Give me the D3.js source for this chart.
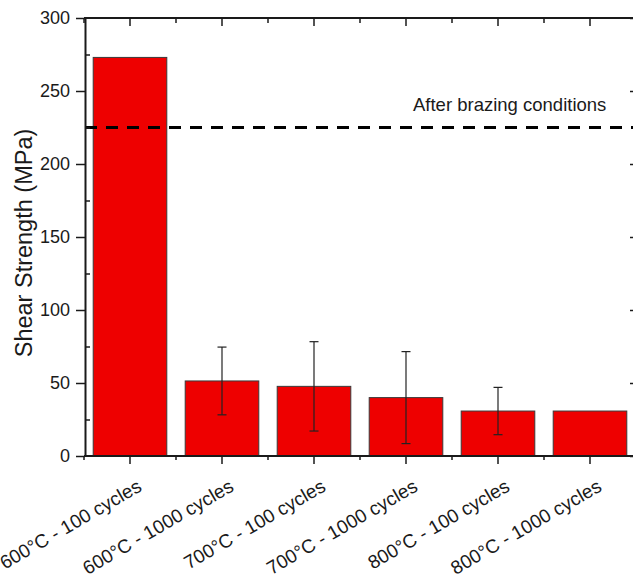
<!DOCTYPE html>
<html>
<head>
<meta charset="utf-8">
<script src="https://cdn.jsdelivr.net/npm/d3@7"></script>
<style>
  html, body { margin: 0; padding: 0; background: #fff; }
  svg { display: block; font-family: "Liberation Sans", Arial, sans-serif; }
</style>
</head>
<body>
<svg id="chart" width="633" height="574"></svg>
<script>
// Shear strength after thermal cycling
const categories = [
  "600°C - 100 cycles",
  "600°C - 1000 cycles",
  "700°C - 100 cycles",
  "700°C - 1000 cycles",
  "800°C - 100 cycles",
  "800°C - 1000 cycles"
];
const strength = [273, 51.4, 47.7, 40, 30.8, 30.8];
const strengthErr = [null, 23.2, 30.6, 31.5, 16.2, null];
const referenceValue = 225;
const referenceLabel = "After brazing conditions";
const yMajorTicks = [0, 50, 100, 150, 200, 250, 300];
const yMinorTicks = [25, 75, 125, 175, 225, 275];
const yTitle = "Shear Strength (MPa)";

(function () {
const svg = d3.select("#chart");
const plotLeft = 85, plotRight = 636, plotTop = 18, plotBottom = 456;

const x = d3.scaleBand()
  .domain(categories)
  .range([84, 636])
  .paddingInner(0.2)
  .paddingOuter(0.1);

const y = d3.scaleLinear().domain([0, 300]).range([plotBottom, plotTop]);

// category boundaries for the minor ticks on the horizontal axes
const gap = (x.step() - x.bandwidth()) / 2;
const boundaries = categories.map(c => x(c) - gap).concat([x(categories[categories.length - 1]) + x.bandwidth() + gap]);

const ink = "#1a1a1a";

// bars
svg.append("g").selectAll("rect")
  .data(categories)
  .join("rect")
  .attr("x", c => x(c))
  .attr("y", (c, i) => y(strength[i]))
  .attr("width", x.bandwidth())
  .attr("height", (c, i) => y(0) - y(strength[i]))
  .attr("fill", "#ee0000")
  .attr("stroke", "#3a3a3a")
  .attr("stroke-width", 1);

// error bars
const eb = svg.append("g").attr("stroke", "#222").attr("stroke-width", 1.2);
categories.forEach((c, i) => {
  const e = strengthErr[i];
  if (e == null) return;
  const cx = x(c) + x.bandwidth() / 2;
  const y1 = y(strength[i] + e), y2 = y(strength[i] - e);
  eb.append("line").attr("x1", cx).attr("x2", cx).attr("y1", y1).attr("y2", y2);
  eb.append("line").attr("x1", cx - 4.5).attr("x2", cx + 4.5).attr("y1", y1).attr("y2", y1);
  eb.append("line").attr("x1", cx - 4.5).attr("x2", cx + 4.5).attr("y1", y2).attr("y2", y2);
});

// reference level
svg.append("line")
  .attr("x1", plotLeft).attr("x2", 633)
  .attr("y1", y(referenceValue)).attr("y2", y(referenceValue))
  .attr("stroke", "#000")
  .attr("stroke-width", 2.8)
  .attr("stroke-dasharray", "12,9");

svg.append("text")
  .attr("x", 413)
  .attr("y", 111)
  .attr("font-size", 18.5)
  .attr("fill", ink)
  .text(referenceLabel);

function styleAxis(g) {
  g.select(".domain").attr("stroke", ink).attr("stroke-width", 2);
  g.selectAll(".tick line").attr("stroke", ink).attr("stroke-width", 1.5);
}

// left axis: major ticks outward with labels, minor ticks inward
svg.append("g")
  .attr("transform", `translate(${plotLeft},0)`)
  .call(d3.axisLeft(y).tickValues(yMajorTicks).tickSize(9).tickPadding(6).tickSizeOuter(0))
  .call(styleAxis)
  .call(g => g.selectAll("text").attr("font-size", 18).attr("fill", ink).attr("font-family", "Liberation Sans, Arial, sans-serif"));
svg.append("g")
  .attr("transform", `translate(${plotLeft},0)`)
  .call(d3.axisRight(y).tickValues(yMinorTicks).tickSize(5).tickFormat("").tickSizeOuter(0))
  .call(styleAxis)
  .call(g => g.select(".domain").remove());

// right axis: ticks inward only
svg.append("g")
  .attr("transform", `translate(${plotRight},0)`)
  .call(d3.axisLeft(y).tickValues(yMajorTicks).tickSize(6).tickFormat("").tickSizeOuter(0))
  .call(styleAxis);
svg.append("g")
  .attr("transform", `translate(${plotRight},0)`)
  .call(d3.axisLeft(y).tickValues(yMinorTicks).tickSize(3).tickFormat("").tickSizeOuter(0))
  .call(styleAxis)
  .call(g => g.select(".domain").remove());

// bottom axis: major ticks outward at category centres
svg.append("g")
  .attr("transform", `translate(0,${plotBottom})`)
  .call(d3.axisBottom(x).tickSize(8).tickFormat("").tickSizeOuter(0))
  .call(styleAxis)
  .call(g => g.select(".domain").attr("d", `M${plotLeft - 1},0H${plotRight}`));
svg.append("g").selectAll("line")
  .data(boundaries)
  .join("line")
  .attr("x1", d => d).attr("x2", d => d)
  .attr("y1", plotBottom).attr("y2", plotBottom + 4)
  .attr("stroke", ink).attr("stroke-width", 1.5);

// top axis: ticks inward
svg.append("g")
  .attr("transform", `translate(0,${plotTop})`)
  .call(d3.axisBottom(x).tickSize(8).tickFormat("").tickSizeOuter(0))
  .call(styleAxis)
  .call(g => g.select(".domain").attr("d", `M${plotLeft - 1},0H${plotRight}`));
svg.append("g").selectAll("line")
  .data(boundaries)
  .join("line")
  .attr("x1", d => d).attr("x2", d => d)
  .attr("y1", plotTop).attr("y2", plotTop + 5)
  .attr("stroke", ink).attr("stroke-width", 1.5);

// rotated category labels
svg.append("g").selectAll("text")
  .data(categories)
  .join("text")
  .attr("transform", c => `translate(${x(c) + x.bandwidth() / 2 + 13},490) rotate(-30)`)
  .attr("text-anchor", "end")
  .attr("font-size", 19)
  .attr("fill", ink)
  .text(c => c);

// y-axis title
svg.append("text")
  .attr("transform", `translate(32,243) rotate(-90)`)
  .attr("text-anchor", "middle")
  .attr("font-size", 23.5)
  .attr("fill", ink)
  .text(yTitle);
})();
</script>
</body>
</html>
